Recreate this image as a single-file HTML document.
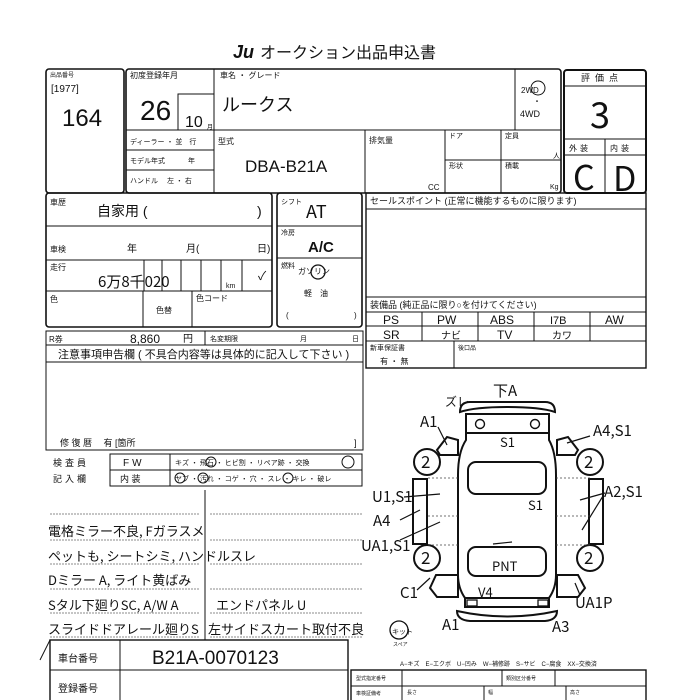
<!DOCTYPE html>
<html><head><meta charset="utf-8"><style>
html,body{margin:0;padding:0;background:#fff;width:700px;height:700px;overflow:hidden}
svg{display:block}
text{font-family:"Liberation Sans","Noto Sans CJK JP",sans-serif;fill:#111}
.h{font-family:"Noto Sans CJK JP","WenQuanYi Zen Hei",sans-serif;font-weight:400}
</style></head><body>
<svg width="700" height="700" viewBox="0 0 700 700" xmlns="http://www.w3.org/2000/svg">
<g stroke="#111" fill="none" stroke-width="1">
<rect x="46" y="69" width="78" height="124" rx="3" stroke-width="1.6"/>
<rect x="126" y="69" width="435" height="124" rx="3" stroke-width="1.6"/>
<line x1="214" y1="69" x2="214" y2="193"/>
<line x1="126" y1="130" x2="561" y2="130"/>
<rect x="178" y="94" width="36" height="36"/>
<line x1="515" y1="69" x2="515" y2="130"/>
<line x1="126" y1="150" x2="214" y2="150"/>
<line x1="126" y1="170" x2="214" y2="170"/>
<line x1="365" y1="130" x2="365" y2="193"/>
<line x1="445" y1="130" x2="445" y2="193"/>
<line x1="501" y1="130" x2="501" y2="193"/>
<line x1="445" y1="160" x2="561" y2="160"/>
<rect x="564" y="70" width="82" height="123" rx="3" stroke-width="2"/>
<line x1="564" y1="86" x2="646" y2="86"/>
<line x1="564" y1="139" x2="646" y2="139"/>
<line x1="564" y1="155" x2="646" y2="155"/>
<line x1="605" y1="139" x2="605" y2="193"/>
<rect x="46" y="193" width="226" height="134" rx="3" stroke-width="1.6"/>
<line x1="46" y1="226" x2="272" y2="226"/>
<line x1="46" y1="260" x2="272" y2="260"/>
<line x1="46" y1="291" x2="272" y2="291"/>
<line x1="144" y1="260" x2="144" y2="291"/><line x1="162" y1="260" x2="162" y2="291"/>
<line x1="181" y1="260" x2="181" y2="291"/><line x1="201" y1="260" x2="201" y2="291"/>
<line x1="221" y1="260" x2="221" y2="291"/><line x1="242" y1="260" x2="242" y2="291"/>
<line x1="143" y1="291" x2="143" y2="327"/><line x1="192" y1="291" x2="192" y2="327"/>
<rect x="277" y="193" width="85" height="134" rx="3" stroke-width="1.6"/>
<line x1="277" y1="226" x2="362" y2="226"/>
<line x1="277" y1="258" x2="362" y2="258"/>
<rect x="46" y="331" width="317" height="14"/>
<line x1="205" y1="331" x2="205" y2="345"/>
<rect x="46" y="345" width="317" height="105"/>
<line x1="46" y1="362" x2="363" y2="362"/>
<rect x="366" y="193" width="280" height="175" stroke-width="1.4"/>
<line x1="366" y1="209" x2="646" y2="209"/>
<line x1="366" y1="297" x2="646" y2="297"/>
<line x1="366" y1="312" x2="646" y2="312"/>
<line x1="366" y1="326" x2="646" y2="326"/>
<line x1="366" y1="341" x2="646" y2="341"/>
<line x1="422" y1="312" x2="422" y2="341"/><line x1="478" y1="312" x2="478" y2="341"/>
<line x1="534" y1="312" x2="534" y2="341"/><line x1="590" y1="312" x2="590" y2="341"/>
<line x1="454" y1="341" x2="454" y2="368"/>
<rect x="110" y="454" width="252" height="32"/>
<line x1="110" y1="470" x2="362" y2="470"/>
<line x1="170" y1="454" x2="170" y2="486"/>
<line x1="205" y1="490" x2="205" y2="640"/>
<g stroke="#666" stroke-dasharray="2 1" stroke-width="0.8">
<line x1="50" y1="514" x2="200" y2="514"/><line x1="210" y1="514" x2="362" y2="514"/>
<line x1="50" y1="540" x2="200" y2="540"/><line x1="210" y1="540" x2="362" y2="540"/>
<line x1="50" y1="564" x2="200" y2="564"/><line x1="210" y1="564" x2="362" y2="564"/>
<line x1="50" y1="589" x2="200" y2="589"/><line x1="210" y1="589" x2="362" y2="589"/>
<line x1="50" y1="613" x2="200" y2="613"/><line x1="210" y1="613" x2="362" y2="613"/>
<line x1="50" y1="637" x2="200" y2="637"/><line x1="210" y1="637" x2="362" y2="637"/>
</g>
<rect x="50" y="640" width="298" height="62" stroke-width="1.4"/>
<line x1="120" y1="640" x2="120" y2="702"/>
<line x1="50" y1="670" x2="348" y2="670"/>
<rect x="351" y="670" width="295" height="32" stroke-width="1.4"/>
<line x1="351" y1="686" x2="646" y2="686"/>
<line x1="402" y1="670" x2="402" y2="702"/>
<line x1="502" y1="670" x2="502" y2="686"/><line x1="555" y1="670" x2="555" y2="686"/>
<line x1="484" y1="686" x2="484" y2="702"/><line x1="566" y1="686" x2="566" y2="702"/>
<line x1="40" y1="660" x2="50" y2="640"/>
</g>

<text x="233" y="58" font-size="18" font-weight="bold" font-style="italic">Ju</text>
<text x="260" y="58" font-size="16">オークション出品申込書</text>

<text x="50" y="77" font-size="6">出品番号</text>
<text x="51" y="92" font-size="10">[1977]</text>
<text x="62" y="126" font-size="24">164</text>
<text x="130" y="78" font-size="8">初度登録年月</text>
<text x="140" y="120" font-size="28">26</text>
<text x="185" y="127" font-size="16">10</text><text x="207" y="129" font-size="6">月</text>
<text x="220" y="78" font-size="8">車名 ・ グレード</text>
<text x="222" y="111" font-size="18">ルークス</text>
<text x="521" y="93" font-size="8">2WD</text><circle cx="538" cy="88" r="7" fill="none" stroke="#111"/>
<text x="533" y="104" font-size="8">・</text>
<text x="520" y="117" font-size="9">4WD</text>
<text x="130" y="144" font-size="7">ディーラー ・ 並　行</text>
<text x="130" y="163" font-size="7">モデル年式　　　 年</text>
<text x="130" y="183" font-size="7">ハンドル　 左 ・ 右</text>
<text x="218" y="144" font-size="8">型式</text>
<text x="245" y="172" font-size="17">DBA-B21A</text>
<text x="369" y="143" font-size="8">排気量</text><text x="428" y="190" font-size="8">CC</text>
<text x="449" y="138" font-size="7">ドア</text><text x="505" y="138" font-size="7">定員</text><text x="553" y="158" font-size="7">人</text>
<text x="449" y="168" font-size="7">形状</text><text x="505" y="168" font-size="7">積載</text><text x="550" y="189" font-size="7">Kg</text>
<text x="581" y="81" font-size="9" letter-spacing="5">評価点</text>
<text x="590" y="128" font-size="36" class="h">3</text>
<text x="569" y="151" font-size="8" letter-spacing="3">外装</text><text x="610" y="151" font-size="8" letter-spacing="3">内装</text>
<text x="573" y="190" font-size="34" class="h">C</text><text x="613" y="191" font-size="34" class="h">D</text>

<text x="50" y="205" font-size="8">車歴</text>
<text x="97" y="216" font-size="14">自家用 (</text><text x="257" y="216" font-size="14">)</text>
<text x="50" y="252" font-size="8">車検</text>
<text x="127" y="252" font-size="10">年</text><text x="186" y="252" font-size="10">月(</text><text x="257" y="252" font-size="10">日)</text>
<text x="50" y="270" font-size="8">走行</text>
<text x="98" y="287" font-size="15" class="h">6万8千020</text><text x="226" y="288" font-size="7">km</text>
<text x="258" y="280" font-size="12">✓</text>
<text x="50" y="302" font-size="8">色</text>
<text x="156" y="313" font-size="8">色替</text><text x="196" y="301" font-size="8">色コード</text>
<text x="281" y="204" font-size="7">シフト</text><text x="306" y="218" font-size="18" class="h">AT</text>
<text x="281" y="235" font-size="7">冷房</text><text x="308" y="252" font-size="15" font-weight="bold">A/C</text>
<text x="281" y="268" font-size="7">燃料</text><text x="298" y="274" font-size="8">ガソリン</text>
<circle cx="318" cy="272" r="7" fill="none" stroke="#111" stroke-width="1.3"/>
<text x="304" y="296" font-size="8">軽　油</text>
<text x="286" y="318" font-size="8">(</text><text x="354" y="318" font-size="8">)</text>
<text x="49" y="342" font-size="8">R券</text>
<text x="130" y="343" font-size="12">8,860</text><text x="183" y="342" font-size="10">円</text>
<text x="210" y="341" font-size="7">名変期限</text><text x="300" y="341" font-size="7">月</text><text x="352" y="341" font-size="7">日</text>
<text x="58" y="358" font-size="11">注意事項申告欄 ( 不具合内容等は具体的に記入して下さい )</text>
<text x="60" y="446" font-size="9">修 復 暦　 有 [箇所</text><text x="354" y="446" font-size="9">]</text>
<text x="370" y="204" font-size="9">セールスポイント (正常に機能するものに限ります)</text>
<text x="370" y="308" font-size="9">装備品 (純正品に限り○を付けてください)</text>
<text x="383" y="324" font-size="12">PS</text><text x="437" y="324" font-size="12">PW</text><text x="490" y="324" font-size="12">ABS</text><text x="550" y="324" font-size="11">I7B</text><text x="605" y="324" font-size="12">AW</text>
<text x="383" y="339" font-size="12">SR</text><text x="441" y="339" font-size="10">ナビ</text><text x="497" y="339" font-size="12">TV</text><text x="552" y="339" font-size="10">カワ</text>
<text x="370" y="350" font-size="7">新車保証書</text><text x="380" y="364" font-size="8">有 ・ 無</text>
<text x="458" y="350" font-size="6">後口品</text>

<text x="53" y="466" font-size="9" letter-spacing="3">検査員</text>
<text x="53" y="482" font-size="9" letter-spacing="3">記入欄</text>
<text x="123" y="466" font-size="10" letter-spacing="3">FW</text>
<text x="120" y="482" font-size="9">内 装</text>
<text x="175" y="465" font-size="7">キズ ・ 飛石 ・ ヒビ割 ・ リペア跡 ・ 交換</text>
<text x="175" y="481" font-size="7">ヤブ ・ 汚れ ・ コゲ ・ 穴 ・ スレ ・ キレ ・ 破レ</text>
<g fill="none" stroke="#111"><circle cx="211" cy="462" r="5"/><circle cx="348" cy="462" r="6"/><circle cx="180" cy="478" r="5"/><circle cx="203" cy="478" r="5"/><circle cx="288" cy="478" r="5"/></g>

<g font-size="13">
<text x="48" y="536" class="h">電格ミラー不良, Fガラスメ</text>
<text x="48" y="561" class="h">ペットも, シートシミ, ハンドルスレ</text>
<text x="48" y="585" class="h">Dミラー A, ライト黄ばみ</text>
<text x="48" y="610" class="h">Sタル下廻りSC, A/W A</text>
<text x="48" y="634" class="h">スライドドアレール廻りS</text>
<text x="216" y="610" class="h">エンドパネル U</text>
<text x="208" y="634" class="h">左サイドスカート取付不良</text>
</g>
<text x="58" y="662" font-size="10">車台番号</text>
<text x="152" y="664" font-size="19">B21A-0070123</text>
<text x="58" y="692" font-size="10">登録番号</text>
<text x="400" y="666" font-size="6">A−キズ　E−エクボ　U−凹み　W−補修跡　S−サビ　C−腐食　XX−交換済</text>
<text x="356" y="680" font-size="5">型式指定番号</text><text x="506" y="680" font-size="5">類別区分番号</text>
<text x="356" y="695" font-size="5">車検証備考</text><text x="407" y="694" font-size="5">長さ</text><text x="488" y="694" font-size="5">幅</text><text x="570" y="694" font-size="5">高さ</text>

<!-- car diagram -->
<g fill="none" stroke="#111" stroke-width="2">
<path d="M460 412 Q460 402 470 402 L545 402 Q555 402 555 412 Q540 407 507 407 Q475 407 460 412Z"/>
<path d="M466 414 L549 414 L549 440 Q556 452 556 475 L556 575 Q556 588 549 598 L549 607 L465 607 L465 598 Q458 588 458 575 L458 475 Q458 452 466 440Z"/>
<line x1="466" y1="433" x2="549" y2="433"/>
<circle cx="480" cy="424" r="4.5" stroke-width="1.4"/><circle cx="535" cy="424" r="4.5" stroke-width="1.4"/>
<rect x="468" y="462" width="78" height="32" rx="8"/>
<rect x="468" y="547" width="78" height="29" rx="8"/>
<line x1="465" y1="598" x2="549" y2="598"/>
<rect x="467" y="600" width="10" height="6" stroke-width="1.3"/><rect x="538" y="600" width="10" height="6" stroke-width="1.3"/>
<path d="M457 611 Q507 622 557 611 Q557 620 545 621 L470 621 Q457 620 457 611Z"/>
<path d="M458 440 L447 437 L437 450 L440 455 L458 455Z"/>
<rect x="413" y="479" width="14" height="65"/>
<path d="M436 575 L430 588 L437 597 L458 597 L458 575Z"/>
<path d="M557 440 L568 437 L578 450 L575 455 L557 455Z"/>
<rect x="589" y="479" width="14" height="65"/>
<path d="M578 575 L585 588 L578 597 L557 597 L557 575Z"/>
<circle cx="427" cy="462" r="13"/><circle cx="590" cy="462" r="13"/>
<circle cx="427" cy="558" r="13"/><circle cx="590" cy="558" r="13"/>
</g>
<g stroke="#444" stroke-dasharray="2 2" stroke-width="0.8">
<line x1="428" y1="478" x2="458" y2="478"/><line x1="556" y1="478" x2="590" y2="478"/>
<line x1="428" y1="516" x2="458" y2="516"/><line x1="556" y1="516" x2="590" y2="516"/>
<line x1="428" y1="545" x2="458" y2="545"/><line x1="556" y1="545" x2="590" y2="545"/>
</g>
<g stroke="#111" stroke-width="1.2">
<line x1="438" y1="427" x2="447" y2="445"/><line x1="404" y1="497" x2="440" y2="494"/>
<line x1="400" y1="520" x2="420" y2="510"/><line x1="400" y1="540" x2="440" y2="522"/>
<line x1="430" y1="578" x2="417" y2="590"/><line x1="590" y1="436" x2="567" y2="443"/>
<line x1="605" y1="493" x2="580" y2="500"/><line x1="603" y1="496" x2="582" y2="530"/>
<line x1="575" y1="583" x2="580" y2="595"/><line x1="493" y1="544" x2="512" y2="542"/>
</g>
<g font-size="15">
<text x="420" y="427" class="h">A1</text>
<text x="445" y="406" font-size="12" class="h">ズレ</text>
<text x="493" y="396" class="h">下A</text>
<text x="593" y="436" class="h">A4,S1</text>
<text x="500" y="447" font-size="13" class="h">S1</text>
<text x="372" y="502" class="h">U1,S1</text>
<text x="373" y="526" class="h">A4</text>
<text x="361" y="551" class="h">UA1,S1</text>
<text x="528" y="510" font-size="13" class="h">S1</text>
<text x="604" y="497" class="h">A2,S1</text>
<text x="492" y="571" font-size="13" class="h">PNT</text>
<text x="400" y="598" class="h">C1</text>
<text x="478" y="597" font-size="13" class="h">V4</text>
<text x="575" y="608" class="h">UA1P</text>
<text x="442" y="630" class="h">A1</text>
<text x="552" y="632" class="h">A3</text>
</g>
<g font-size="17">
<text x="421" y="468" class="h">2</text><text x="584" y="468" class="h">2</text>
<text x="421" y="564" class="h">2</text><text x="584" y="564" class="h">2</text>
</g>
<circle cx="399" cy="630" r="9" fill="none" stroke="#111" stroke-width="1.3"/>
<text x="392" y="634" font-size="7">キット</text><text x="393" y="646" font-size="5">スペア</text>
</svg>
</body></html>
